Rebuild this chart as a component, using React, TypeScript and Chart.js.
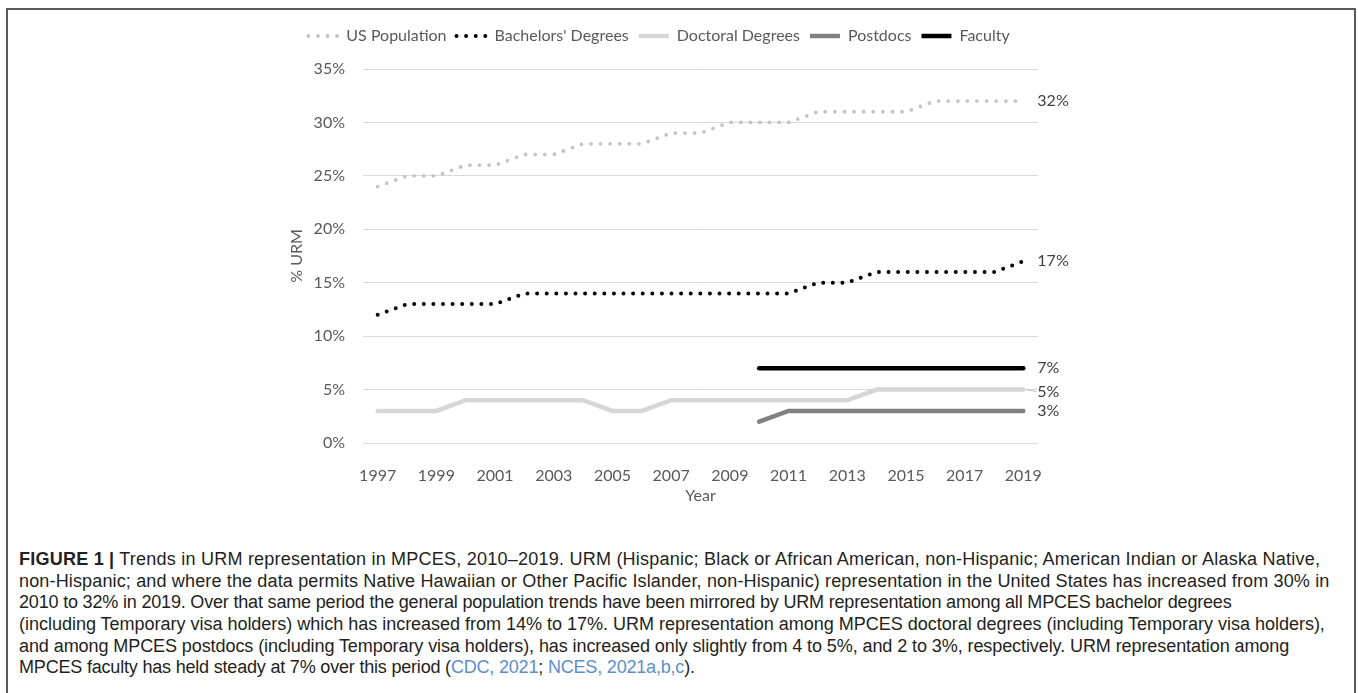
import React, { useEffect, useLayoutEffect, useRef, useState } from 'react';
import { Chart, registerables } from 'chart.js';

Chart.register(...registerables);

const years = ['1997', '1998', '1999', '2000', '2001', '2002', '2003', '2004', '2005', '2006', '2007', '2008', '2009', '2010', '2011', '2012', '2013', '2014', '2015', '2016', '2017', '2018', '2019'];
const usPopulation = [24, 25, 25, 26, 26, 27, 27, 28, 28, 28, 29, 29, 30, 30, 30, 31, 31, 31, 31, 32, 32, 32, 32];
const bachelors = [12, 13, 13, 13, 13, 14, 14, 14, 14, 14, 14, 14, 14, 14, 14, 15, 15, 16, 16, 16, 16, 16, 17];
const doctoral = [3, 3, 3, 4, 4, 4, 4, 4, 3, 3, 4, 4, 4, 4, 4, 4, 4, 5, 5, 5, 5, 5, 5];
const postdocs = [null, null, null, null, null, null, null, null, null, null, null, null, null, 2, 3, 3, 3, 3, 3, 3, 3, 3, 3];
const faculty = [null, null, null, null, null, null, null, null, null, null, null, null, null, 7, 7, 7, 7, 7, 7, 7, 7, 7, 7];
const yTicks = [0, 5, 10, 15, 20, 25, 30, 35];

const FONT = 'Lato, "Open Sans", sans-serif';
const TEXT = '#595959';

const CAP_BOLD = 'FIGURE 1 |';
const captionLines: string[] = [
  'Trends in URM representation in MPCES, 2010–2019. URM (Hispanic; Black or African American, non-Hispanic; American Indian or Alaska Native,',
  'non-Hispanic; and where the data permits Native Hawaiian or Other Pacific Islander, non-Hispanic) representation in the United States has increased from 30% in',
  '2010 to 32% in 2019. Over that same period the general population trends have been mirrored by URM representation among all MPCES bachelor degrees',
  '(including Temporary visa holders) which has increased from 14% to 17%. URM representation among MPCES doctoral degrees (including Temporary visa holders),',
  'and among MPCES postdocs (including Temporary visa holders), has increased only slightly from 4 to 5%, and 2 to 3%, respectively. URM representation among',
  'MPCES faculty has held steady at 7% over this period (',
];
const citeA = 'CDC, 2021';
const citeB = 'NCES, 2021a,b,c';
const lineWidthsTarget = [1306, 1311, 1213, 1307, 1271, 676];
const CAP_FONT = '"Liberation Sans", Arial, sans-serif';

const endLabels = {
  id: 'endLabels',
  afterDatasetsDraw(chart: any) {
    const ctx = chart.ctx;
    ctx.save();
    ctx.font = `16px ${FONT}`;
    ctx.fillStyle = '#404040';
    ctx.textAlign = 'left';
    ctx.textBaseline = 'middle';
    chart.data.datasets.forEach((ds: any, i: number) => {
      const meta = chart.getDatasetMeta(i);
      const last = ds.data.length - 1;
      const pt = meta.data[last];
      if (!pt) return;
      let y = pt.y;
      if (ds.label === 'Doctoral Degrees') {
        y = pt.y + 2;
        ctx.save();
        ctx.strokeStyle = '#bfbfbf';
        ctx.lineWidth = 1;
        ctx.beginPath();
        ctx.moveTo(pt.x + 3, pt.y);
        ctx.lineTo(pt.x + 13, y);
        ctx.stroke();
        ctx.restore();
      }
      ctx.fillText(`${ds.data[last]}%`, pt.x + 14, y);
    });
    ctx.restore();
  },
};

const legendSpace = {
  id: 'legendSpace',
  beforeInit(chart: any) {
    if (!chart.legend) return;
    const orig = chart.legend.fit;
    chart.legend.fit = function () {
      orig.call(this);
      this.height += 15;
    };
  },
};

function fullLineText(i: number) {
  if (i === 0) return `${CAP_BOLD} ${captionLines[0]}`;
  if (i === 5) return `${captionLines[5]}${citeA}; ${citeB}).`;
  return captionLines[i];
}

export default function App() {
  const canvasRef = useRef<HTMLCanvasElement | null>(null);
  const [capSize, setCapSize] = useState(17);
  const [spacings, setSpacings] = useState<number[]>([0, 0, 0, 0, 0, 0]);

  useLayoutEffect(() => {
    document.body.style.margin = '0';
    const c = document.createElement('canvas');
    const ctx = c.getContext('2d');
    if (!ctx) return;
    const base = 100;
    const measure = (i: number) => {
      ctx.font = `${base}px ${CAP_FONT}`;
      if (i === 0) {
        const rest = ctx.measureText(` ${captionLines[0]}`).width;
        ctx.font = `bold ${base}px ${CAP_FONT}`;
        return rest + ctx.measureText(CAP_BOLD).width;
      }
      return ctx.measureText(fullLineText(i)).width;
    };
    const widths = [0, 1, 2, 3, 4, 5].map(measure);
    let ratioSum = 0;
    widths.forEach((w, i) => {
      if (i < 5) ratioSum += lineWidthsTarget[i] / w;
    });
    const size = (ratioSum / 5) * base;
    const sp = widths.map((w, i) => {
      const natural = (w * size) / base;
      const chars = fullLineText(i).length;
      return (lineWidthsTarget[i] - natural) / chars;
    });
    setCapSize(size);
    setSpacings(sp);
  }, []);

  useEffect(() => {
    if (!canvasRef.current) return;
    const chart = new Chart(canvasRef.current, {
      type: 'line',
      data: {
        labels: years,
        datasets: [
          {
            label: 'US Population',
            data: usPopulation,
            borderColor: '#c4c4c4',
            backgroundColor: '#c4c4c4',
            borderWidth: 3.8,
            borderDash: [0, 9.6],
            borderCapStyle: 'round',
            pointRadius: 0,
          },
          {
            label: "Bachelors' Degrees",
            data: bachelors,
            borderColor: '#000000',
            backgroundColor: '#000000',
            borderWidth: 4,
            borderDash: [0, 9.6],
            borderCapStyle: 'round',
            pointRadius: 0,
          },
          {
            label: 'Doctoral Degrees',
            data: doctoral,
            borderColor: '#d6d6d6',
            backgroundColor: '#d6d6d6',
            borderWidth: 4.5,
            borderCapStyle: 'round',
            pointRadius: 0,
          },
          {
            label: 'Postdocs',
            data: postdocs,
            borderColor: '#808080',
            backgroundColor: '#808080',
            borderWidth: 4.5,
            borderCapStyle: 'round',
            pointRadius: 0,
          },
          {
            label: 'Faculty',
            data: faculty,
            borderColor: '#000000',
            backgroundColor: '#000000',
            borderWidth: 4.5,
            borderCapStyle: 'round',
            pointRadius: 0,
          },
        ] as any,
      },
      options: {
        animation: false,
        responsive: true,
        maintainAspectRatio: false,
        layout: { padding: { left: 280, right: 320, top: 18, bottom: 0 } },
        plugins: {
          legend: {
            display: true,
            position: 'top',
            labels: {
              usePointStyle: true,
              pointStyle: 'line',
              pointStyleWidth: 30,
              padding: 10,
              color: TEXT,
              font: { family: FONT, size: 16 },
              generateLabels: (chart: any) =>
                chart.data.datasets.map((ds: any, i: number) => ({
                  text: ds.label,
                  fillStyle: ds.borderColor,
                  strokeStyle: ds.borderColor,
                  lineWidth: ds.borderWidth,
                  lineDash: ds.borderDash || [],
                  lineCap: ds.borderDash ? 'round' : 'butt',
                  pointStyle: 'line',
                  fontColor: TEXT,
                  hidden: false,
                  datasetIndex: i,
                })),
            },
          },
          tooltip: { enabled: false },
        },
        scales: {
          x: {
            type: 'category',
            offset: true,
            grid: { display: false },
            border: { display: false },
            ticks: {
              autoSkip: false,
              maxRotation: 0,
              padding: 15,
              color: TEXT,
              font: { family: FONT, size: 16 },
              callback: (_v: any, i: number) => (i % 2 === 0 ? years[i] : ''),
            },
            title: {
              display: true,
              text: 'Year',
              color: TEXT,
              font: { family: FONT, size: 16 },
              padding: { top: 0, bottom: 10 },
            },
            afterFit: (s: any) => {
              s.height = 72;
            },
          },
          y: {
            min: 0,
            max: 35,
            afterBuildTicks: (s: any) => {
              s.ticks = yTicks.map((v) => ({ value: v }));
            },
            grid: { color: '#d9d9d9', lineWidth: 1, drawTicks: false },
            border: { display: false },
            ticks: {
              padding: 18,
              color: TEXT,
              font: { family: FONT, size: 16 },
              callback: (v: any) => `${v}%`,
            },
            title: {
              display: true,
              text: '% URM',
              color: TEXT,
              font: { family: FONT, size: 16 },
              padding: { top: 7, bottom: 0 },
            },
            afterFit: (s: any) => {
              s.width = 83;
            },
          },
        },
      },
      plugins: [endLabels, legendSpace],
    });
    return () => chart.destroy();
  }, []);

  const capStyle = (i: number): React.CSSProperties => ({
    whiteSpace: 'nowrap',
    height: 21.7,
    lineHeight: '21.7px',
    letterSpacing: `${spacings[i]}px`,
  });

  return (
    <div style={{ position: 'relative', width: 1358, height: 693, overflow: 'hidden', background: '#ffffff' }}>
      <div
        style={{
          position: 'absolute',
          left: 6,
          top: 8,
          width: 1350,
          height: 760,
          boxSizing: 'border-box',
          border: '2px solid #5a5a5a',
        }}
      />
      <div style={{ position: 'absolute', left: 0, top: 0, width: 1358, height: 515 }}>
        <canvas ref={canvasRef} />
      </div>
      <div
        style={{
          position: 'absolute',
          left: 19,
          top: 549,
          fontFamily: CAP_FONT,
          fontSize: capSize,
          color: '#231f20',
        }}
      >
        <div style={capStyle(0)}>
          <b>{CAP_BOLD}</b> {captionLines[0]}
        </div>
        {[1, 2, 3, 4].map((i) => (
          <div key={i} style={capStyle(i)}>
            {captionLines[i]}
          </div>
        ))}
        <div style={capStyle(5)}>
          {captionLines[5]}
          <span style={{ color: '#5b8fc9' }}>{citeA}</span>;{' '}
          <span style={{ color: '#5b8fc9' }}>{citeB}</span>).
        </div>
      </div>
    </div>
  );
}
